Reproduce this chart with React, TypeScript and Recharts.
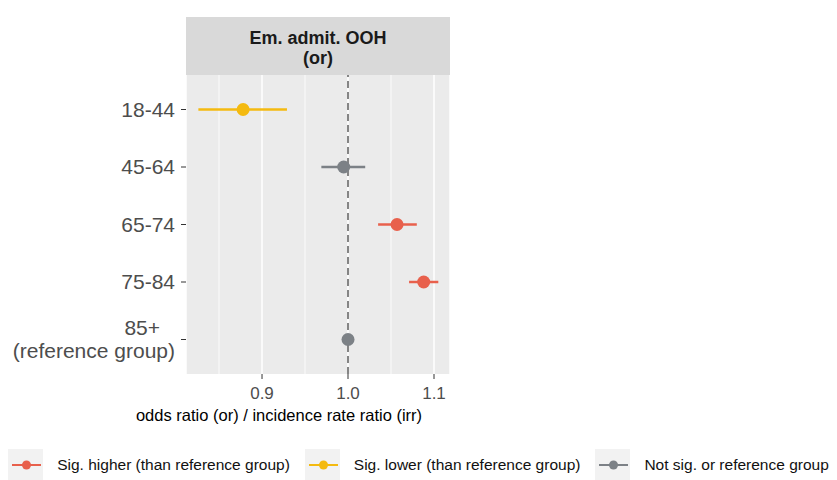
import React from "react";
import { ScatterChart, Scatter, XAxis, YAxis, CartesianGrid, ReferenceLine, ErrorBar, Legend } from "recharts";

// age groups (top to bottom) with odds ratio and 95% CI
const ageGroups = ["18-44", "45-64", "65-74", "75-84", "85+\n(reference group)"];
const oddsRatio = [0.878, 0.995, 1.057, 1.088, 1.0];
const lowerCI = [0.826, 0.969, 1.035, 1.071, 1.0];
const upperCI = [0.929, 1.02, 1.08, 1.105, 1.0];
const significance = ["lower", "ns", "higher", "higher", "ns"];

const groupKeys = ["higher", "lower", "ns"];
const groupNames = [
  "Sig. higher (than reference group)",
  "Sig. lower (than reference group)",
  "Not sig. or reference group",
];
const groupColors = ["#E8604C", "#F4BA10", "#7C8186"];

const xTicks = [0.9, 1.0, 1.1];
const xMinorTicks = [0.85, 0.95, 1.05];

const FONT = '"Liberation Sans", Arial, sans-serif';

const rows = ageGroups.map((age, i) => ({
  age,
  y: i,
  or: oddsRatio[i],
  err: [oddsRatio[i] - lowerCI[i], upperCI[i] - oddsRatio[i]],
  sig: significance[i],
}));

const AgeTick = (props: any) => {
  const { x, y, payload } = props;
  const lines = String(ageGroups[payload.value] ?? "").split("\n");
  const lh = 23;
  const start = y - ((lines.length - 1) * lh) / 2;
  return (
    <text textAnchor="end" fill="#4D4D4D" fontSize={21} fontFamily={FONT}>
      {lines.map((l, i) => (
        <tspan key={i} x={lines.length > 1 && i === 0 ? x - 15 : x} y={start + i * lh} dy="0.35em">
          {l}
        </tspan>
      ))}
    </text>
  );
};

const LegendContent = () => (
  <div style={{ display: "flex", justifyContent: "center", alignItems: "center", fontFamily: FONT, fontSize: 15.5, color: "#111" }}>
    {groupKeys.map((k, i) => (
      <div key={k} style={{ display: "flex", alignItems: "center", marginRight: i < 2 ? 15 : 0 }}>
        <svg width={35} height={32} style={{ background: "#F2F2F2", marginRight: 14 }}>
          <line x1={4} x2={33} y1={16} y2={16} stroke={groupColors[i]} strokeWidth={2} />
          <circle cx={18.5} cy={16} r={4.5} fill={groupColors[i]} />
        </svg>
        <span>{groupNames[i]}</span>
      </div>
    ))}
  </div>
);

export default function App() {
  return (
    <div style={{ position: "absolute", left: 0, top: 0, width: 837, height: 480, background: "#fff" }}>
      <div
        style={{
          position: "absolute",
          left: 186,
          top: 17,
          width: 264,
          height: 58,
          background: "#D9D9D9",
          display: "flex",
          flexDirection: "column",
          justifyContent: "center",
          alignItems: "center",
          paddingTop: 4,
          boxSizing: "border-box",
          fontFamily: FONT,
          fontWeight: "bold",
          fontSize: 18,
          lineHeight: "20px",
          color: "#1A1A1A",
        }}
      >
        <div>Em. admit. OOH</div>
        <div>(or)</div>
      </div>
      <ScatterChart width={837} height={480} margin={{ top: 75, right: 387, bottom: 46, left: 0 }}>
        <CartesianGrid horizontal={false} stroke="#FFFFFF" strokeWidth={1.5} fill="#EBEBEB" />
        {xMinorTicks.map((v) => (
          <ReferenceLine key={v} x={v} stroke="#FFFFFF" strokeWidth={0.8} />
        ))}
        <XAxis
          type="number"
          dataKey="or"
          domain={[0.8116, 1.1186]}
          allowDataOverflow
          ticks={xTicks}
          tickFormatter={(v) => v.toFixed(1)}
          height={60}
          tickSize={5}
          tickMargin={8}
          axisLine={false}
          tickLine={{ stroke: "#333333" }}
          tick={{ fill: "#4D4D4D", fontSize: 17, fontFamily: FONT }}
          label={(p: any) => {
            const vb = p.viewBox || {};
            return (
              <text x={vb.x + vb.width / 2 - 39} y={415} dy="0.35em" textAnchor="middle" fill="#000" fontSize={16.5} fontFamily={FONT}>
                odds ratio (or) / incidence rate ratio (irr)
              </text>
            );
          }}
        />
        <YAxis
          type="number"
          dataKey="y"
          reversed
          domain={[-0.6, 4.6]}
          ticks={[0, 1, 2, 3, 4]}
          width={186}
          tickSize={5}
          tickMargin={6}
          axisLine={false}
          tickLine={{ stroke: "#333333" }}
          tick={<AgeTick />}
        />
        <ReferenceLine x={1} stroke="#858585" strokeWidth={2} strokeDasharray="7 4" />
        {groupKeys.map((k, i) => (
          <Scatter
            key={k}
            name={groupNames[i]}
            data={rows.filter((r) => r.sig === k)}
            fill={groupColors[i]}
            isAnimationActive={false}
            shape={(p: any) => <circle cx={p.cx} cy={p.cy} r={6.5} fill={groupColors[i]} />}
          >
            <ErrorBar direction="x" dataKey="err" width={0} stroke={groupColors[i]} strokeWidth={2.5} isAnimationActive={false} />
          </Scatter>
        ))}
        <Legend
          layout="horizontal"
          verticalAlign="middle"
          align="center"
          wrapperStyle={{ top: 449, left: 0, width: 837, height: 32 }}
          content={<LegendContent />}
        />
      </ScatterChart>
    </div>
  );
}
